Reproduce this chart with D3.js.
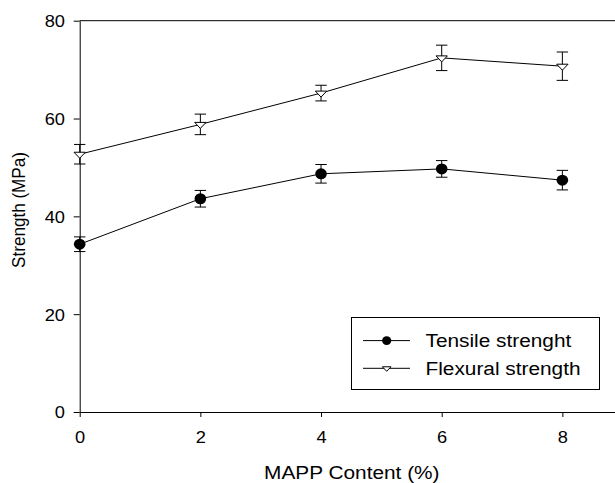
<!DOCTYPE html>
<html lang="en">
<head>
  <meta charset="UTF-8">
  <title>Strength vs MAPP content</title>
  <style>
    body { margin: 0; background: #fff; }
    svg { display: block; font-family: "Liberation Sans", Arial, sans-serif; }
  </style>
</head>
<body>
  <svg width="615" height="483"></svg>
  <script src="https://cdnjs.cloudflare.com/ajax/libs/d3/7.8.5/d3.min.js"></script>
  <script>
    // data
    var mapp = [0, 2, 4, 6, 8]
    var tensile = [34.3, 43.6, 48.7, 49.7, 47.4]
    var tensileErr = [1.5, 1.7, 1.9, 1.7, 2.0]
    var flexural = [52.7, 58.8, 65.2, 72.4, 70.7]
    var flexuralErr = [2.0, 2.1, 1.6, 2.6, 2.9]
    var xTicks = [0, 2, 4, 6, 8]
    var yTicks = [0, 20, 40, 60, 80]
    var seriesNames = ["Tensile strenght", "Flexural strength"]

    var svg = d3.select("svg")
    var SX = 1.12 // the source figure is a bit wider than tall, text too

    var x = d3.scaleLinear().domain([0, 9]).range([79.7, 622.7])
    var y = d3.scaleLinear().domain([0, 80]).range([412, 20.7])

    // frame: top line (right edge falls outside the picture)
    svg.append("line")
      .attr("x1", x(0)).attr("x2", x(9))
      .attr("y1", y(80)).attr("y2", y(80))
      .attr("stroke", "#000").attr("stroke-width", 1)

    // axes
    var gx = svg.append("g")
      .attr("transform", "translate(0," + y(0) + ")")
      .call(d3.axisBottom(x).tickValues(xTicks).tickSize(5).tickSizeOuter(0))
    gx.select(".domain").attr("stroke", "#000")
    gx.selectAll("text")
      .attr("y", 19)
      .attr("font-size", "16.3px")
      .attr("font-family", "Liberation Sans, Arial, sans-serif")
      .attr("fill", "#000")
      .attr("transform", "scale(" + SX + ",1)")

    var gy = svg.append("g")
      .attr("transform", "translate(" + x(0) + ",0)")
      .call(d3.axisLeft(y).tickValues(yTicks).tickSize(6).tickSizeOuter(0))
    gy.select(".domain").attr("stroke", "#000")
    gy.selectAll("text")
      .attr("x", -14.7 / SX)
      .attr("dy", "0.36em")
      .attr("font-size", "16.3px")
      .attr("font-family", "Liberation Sans, Arial, sans-serif")
      .attr("fill", "#000")
      .attr("transform", "scale(" + SX + ",1)")

    // axis titles
    svg.append("text")
      .attr("transform", "translate(351.8,479.3) scale(" + SX + ",1)")
      .attr("text-anchor", "middle")
      .attr("font-size", "18.6px")
      .text("MAPP Content (%)")

    svg.append("text")
      .attr("transform", "translate(25,210) scale(" + SX + ",1) rotate(-90)")
      .attr("text-anchor", "middle")
      .attr("font-size", "17.1px")
      .text("Strength (MPa)")

    // series
    var series = [
      { vals: tensile, errs: tensileErr, shape: "circle" },
      { vals: flexural, errs: flexuralErr, shape: "triangle" }
    ]

    var line = d3.line()
      .x(function (d) { return x(d[0]) })
      .y(function (d) { return y(d[1]) })

    function triPath(s) {
      // downward triangle, centered on its centroid
      var h = s * 1.05
      return "M" + (-s) + "," + (-h / 3) + "L" + s + "," + (-h / 3) + "L0," + (2 * h / 3) + "Z"
    }

    series.forEach(function (ser) {
      var pts = mapp.map(function (m, i) { return [m, ser.vals[i], ser.errs[i]] })

      svg.append("path")
        .datum(pts)
        .attr("d", line)
        .attr("fill", "none")
        .attr("stroke", "#000")
        .attr("stroke-width", 1)

      var eb = svg.append("g").selectAll("g")
        .data(pts)
        .enter()
        .append("g")
        .attr("stroke", "#000")
        .attr("stroke-width", 1)
      eb.append("line")
        .attr("x1", function (d) { return x(d[0]) })
        .attr("x2", function (d) { return x(d[0]) })
        .attr("y1", function (d) { return y(d[1] + d[2]) })
        .attr("y2", function (d) { return y(d[1] - d[2]) })
      eb.append("line")
        .attr("x1", function (d) { return x(d[0]) - 5.7 })
        .attr("x2", function (d) { return x(d[0]) + 5.7 })
        .attr("y1", function (d) { return y(d[1] + d[2]) })
        .attr("y2", function (d) { return y(d[1] + d[2]) })
      eb.append("line")
        .attr("x1", function (d) { return x(d[0]) - 5.7 })
        .attr("x2", function (d) { return x(d[0]) + 5.7 })
        .attr("y1", function (d) { return y(d[1] - d[2]) })
        .attr("y2", function (d) { return y(d[1] - d[2]) })

      var mk = svg.append("g").selectAll("path")
        .data(pts)
        .enter()
      if (ser.shape == "circle") {
        mk.append("ellipse")
          .attr("cx", function (d) { return x(d[0]) })
          .attr("cy", function (d) { return y(d[1]) })
          .attr("rx", 5.8).attr("ry", 5.5)
          .attr("fill", "#000")
      } else {
        mk.append("path")
          .attr("transform", function (d) { return "translate(" + x(d[0]) + "," + y(d[1]) + ")" })
          .attr("d", triPath(5.7))
          .attr("fill", "#fff")
          .attr("stroke", "#000")
          .attr("stroke-width", 1)
      }
    })

    // legend
    var legend = svg.append("g")
    legend.append("rect")
      .attr("x", 351.5).attr("y", 317.5)
      .attr("width", 248).attr("height", 72)
      .attr("fill", "#fff").attr("stroke", "#000").attr("stroke-width", 1)

    var rowY = [340.6, 368.3]
    var baseY = [347.3, 375]
    seriesNames.forEach(function (name, i) {
      legend.append("line")
        .attr("x1", 363).attr("x2", 410)
        .attr("y1", rowY[i]).attr("y2", rowY[i])
        .attr("stroke", "#000").attr("stroke-width", 1)
      if (i == 0) {
        legend.append("ellipse")
          .attr("cx", 386.7).attr("cy", rowY[i])
          .attr("rx", 4.6).attr("ry", 4.4)
          .attr("fill", "#000")
      } else {
        legend.append("path")
          .attr("transform", "translate(386.7," + rowY[i] + ")")
          .attr("d", triPath(4.3))
          .attr("fill", "#fff")
          .attr("stroke", "#000")
          .attr("stroke-width", 1)
      }
      legend.append("text")
        .attr("transform", "translate(425.5," + baseY[i] + ") scale(" + SX + ",1)")
        .attr("font-size", "18.6px")
        .text(name)
    })
  </script>
</body>
</html>
